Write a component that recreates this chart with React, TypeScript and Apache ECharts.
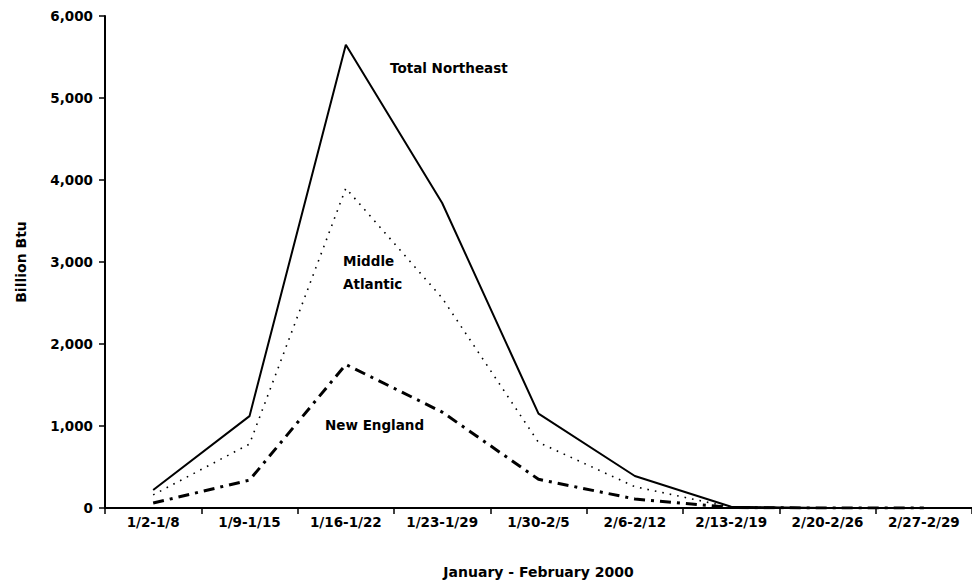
import React, { useEffect, useRef } from "react";
import * as echarts from "echarts";

const categories = ["1/2-1/8", "1/9-1/15", "1/16-1/22", "1/23-1/29", "1/30-2/5", "2/6-2/12", "2/13-2/19", "2/20-2/26", "2/27-2/29"];
const totalNortheast = [220, 1120, 5650, 3720, 1150, 390, 15, 0, 0];
const middleAtlantic = [160, 780, 3900, 2560, 800, 260, 8, 0, 0];
const newEngland = [60, 340, 1750, 1170, 350, 110, 5, 0, 0];
const yTicks = { min: 0, max: 6000, interval: 1000 };

const FONT = "'DejaVu Sans', 'Liberation Sans', Arial, sans-serif";
const FS = 13.5;

export default function App() {
  const ref = useRef<HTMLDivElement>(null);
  useEffect(() => {
    if (!ref.current) return;
    const chart = echarts.init(ref.current, undefined, { renderer: "svg" });
    const labelStyle = { fontFamily: FONT, fontWeight: "bold" as const, fontSize: FS, color: "#000" };
    const annot = (text: string, x: number, y: number) => ({
      type: "text",
      x,
      y,
      style: { text, font: `bold ${FS}px ${FONT}`, fill: "#000", textAlign: "left", textVerticalAlign: "middle", verticalAlign: "middle" },
    });
    chart.setOption({
      animation: false,
      backgroundColor: "#fff",
      grid: { left: 105, top: 16, width: 876, height: 493 },
      xAxis: {
        type: "category",
        data: categories,
        boundaryGap: true,
        axisLine: { show: true, lineStyle: { color: "#000", width: 2 } },
        axisTick: { show: true, length: 6, lineStyle: { color: "#000", width: 1.5 } },
        axisLabel: { ...labelStyle, margin: 7 },
        splitLine: { show: false },
        name: "January - February 2000",
        nameLocation: "middle",
        nameGap: 57,
        nameTextStyle: { ...labelStyle, fontSize: 14 },
      },
      yAxis: {
        type: "value",
        min: yTicks.min,
        max: yTicks.max,
        interval: yTicks.interval,
        axisLine: { show: true, lineStyle: { color: "#000", width: 2 } },
        axisTick: { show: true, length: 6, lineStyle: { color: "#000", width: 1.5 } },
        axisLabel: {
          ...labelStyle,
          margin: 12,
          formatter: (v: number) => v.toLocaleString("en-US"),
        },
        splitLine: { show: false },
        name: "Billion Btu",
        nameLocation: "middle",
        nameRotate: 90,
        nameGap: 77,
        nameTextStyle: { ...labelStyle, fontSize: 14 },
      },
      series: [
        {
          name: "Total Northeast",
          type: "line",
          data: totalNortheast,
          symbol: "none",
          lineStyle: { color: "#000", width: 2, type: "solid" },
          z: 3,
        },
        {
          name: "Middle Atlantic",
          type: "line",
          data: middleAtlantic,
          symbol: "none",
          lineStyle: { color: "#000", width: 1.6, type: [1.6, 6] },
          z: 2,
        },
        {
          name: "New England",
          type: "line",
          data: newEngland,
          symbol: "none",
          lineStyle: { color: "#000", width: 3, type: [11, 6, 3, 6] },
          z: 2,
        },
      ],
      graphic: [
        annot("Total Northeast", 390, 68),
        annot("Middle", 343, 261),
        annot("Atlantic", 343, 284),
        annot("New England", 325, 425),
      ],
    });
    return () => chart.dispose();
  }, []);
  return <div ref={ref} style={{ position: "fixed", left: 0, top: 0, width: 972, height: 584 }} />;
}
